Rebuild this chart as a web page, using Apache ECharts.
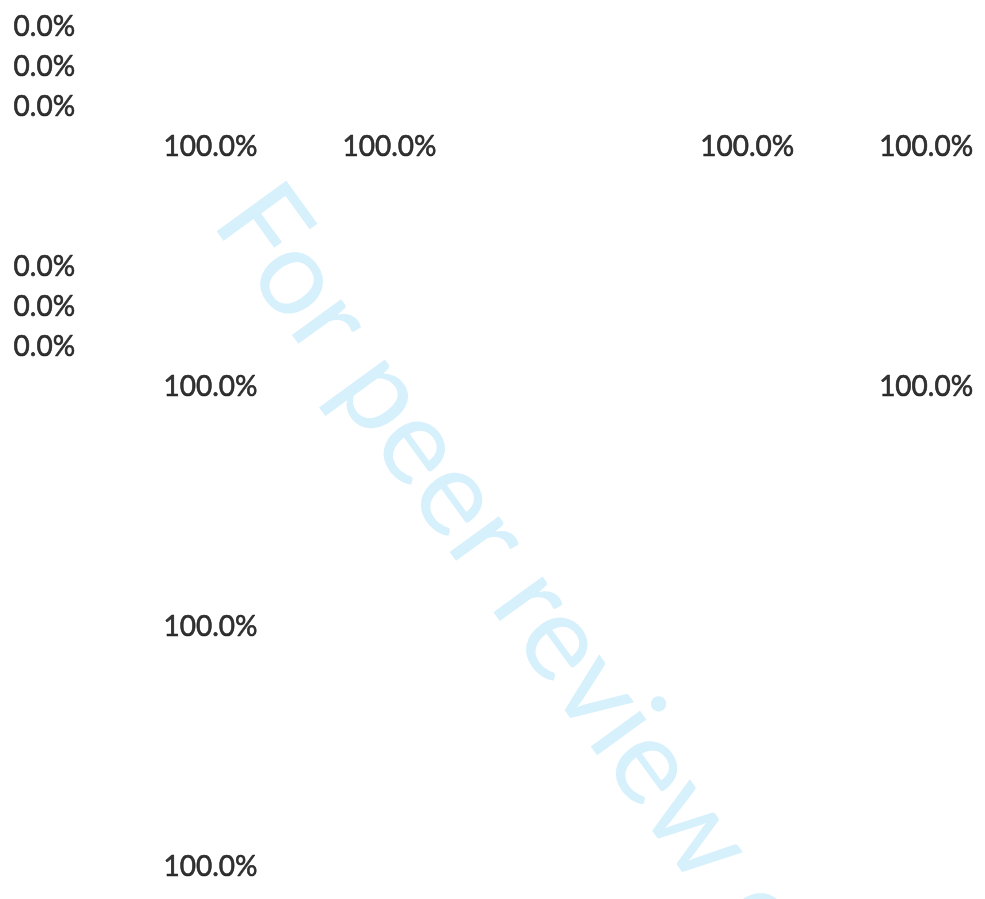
<!DOCTYPE html>
<html>
<head>
<meta charset="utf-8">
<title>share table</title>
<script src="https://cdn.jsdelivr.net/npm/echarts@6/dist/echarts.min.js"></script>
<style>
  html, body { margin: 0; padding: 0; background: #fff; }
  #chart { width: 985px; height: 899px; }
</style>
</head>
<body>
<div id="chart"></div>
<script>
// 行：每组 6 行，共 4 组
var rowNames = []
for (var r = 0; r < 22; r++) rowNames.push('r' + r)

// 左侧一列 0.0%
var zeroRow = [0, 1, 2, 6, 7, 8]
var zeroValue = [0, 0, 0, 0, 0, 0]

// 100.0% 单元格（列号、行号、数值）
var fullCol = [1, 2, 4, 5, 1, 5, 1, 1]
var fullRow = [3, 3, 3, 3, 9, 9, 15, 21]
var fullValue = [100, 100, 100, 100, 100, 100, 100, 100]

var zeroData = zeroRow.map(function (row, i) { return [0, row, zeroValue[i]] })
var fullData = fullRow.map(function (row, i) { return [fullCol[i], row, fullValue[i]] })

function pct (p) { return p.value[2].toFixed(1) + '%' }

var labelStyle = {
  show: true,
  position: 'inside',
  formatter: pct,
  color: '#000',
  fontFamily: 'Lato',
  fontSize: 28,
  textBorderColor: '#000',
  textBorderWidth: 0.6
}

var chart = echarts.init(document.getElementById('chart'))
var option = {
  animation: false,
  backgroundColor: '#fff',
  grid: { left: 0, right: 0, top: 7, bottom: 12 },
  xAxis: { type: 'value', min: -0.1766, max: 5.329, show: false },
  yAxis: { type: 'category', data: rowNames, inverse: true, show: false },
  graphic: [{
    type: 'text',
    x: 193,
    y: 235,
    rotation: -54 * Math.PI / 180,
    z: -10,
    silent: true,
    style: {
      text: 'For peer review only',
      fill: '#d6f0fc',
      font: '120px Lato',
      align: 'left',
      verticalAlign: 'bottom'
    }
  }],
  series: [
    {
      type: 'scatter',
      symbolSize: 0,
      data: zeroData,
      label: Object.assign({}, labelStyle, { align: 'left', offset: [-18, 0] })
    },
    {
      type: 'scatter',
      symbolSize: 0,
      data: fullData,
      label: labelStyle
    }
  ]
}
chart.setOption(option)
</script>
</body>
</html>
